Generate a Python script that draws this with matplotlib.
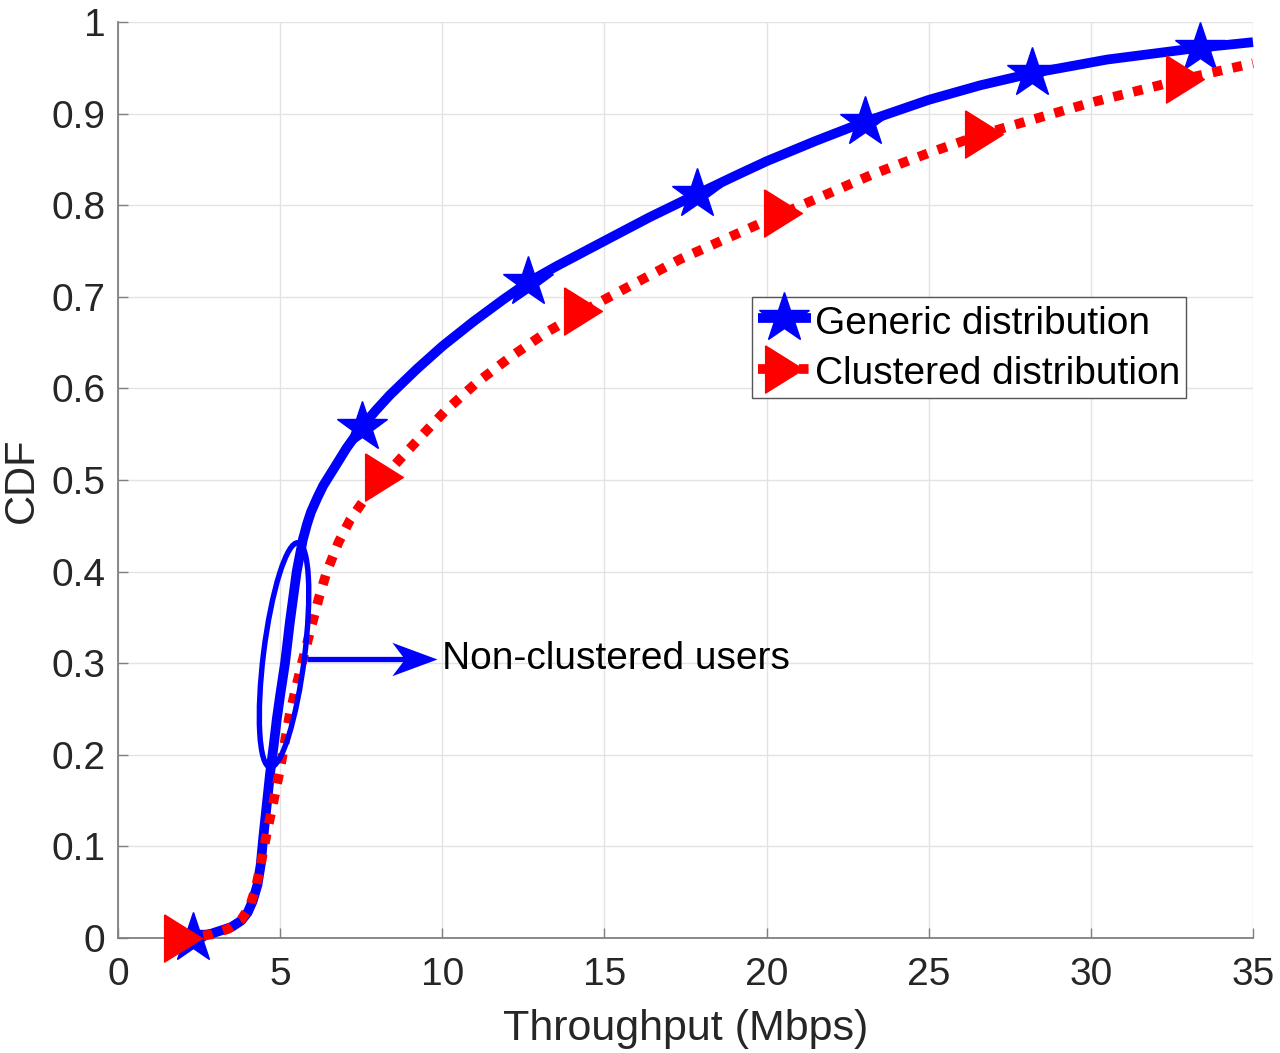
import numpy as np
import matplotlib
matplotlib.use("Agg")
import matplotlib.pyplot as plt
from matplotlib.patches import Ellipse
from matplotlib.transforms import Affine2D, ScaledTranslation

plt.rcParams['font.family'] = ['Liberation Sans', 'DejaVu Sans']

# ---- data ----
gen_x = [2.3, 2.9, 3.5, 3.8, 4.0, 4.15, 4.3, 4.4, 4.48, 4.6, 4.69, 4.8, 4.9, 5.0, 5.15, 5.3,
         5.51, 5.7, 5.83, 5.95, 6.15, 6.33, 6.7, 7.05, 7.52, 7.95, 8.39, 9.21, 10.0, 10.96, 11.88, 12.65,
         13.5, 15.0, 16.4, 17.85, 19.0, 20.0, 21.5, 23.03, 25.0, 26.6, 28.18, 30.5, 33.36, 35.0]
gen_y = [0.0, 0.005, 0.012, 0.019, 0.028, 0.04, 0.058, 0.08, 0.11, 0.15, 0.18, 0.21, 0.24, 0.265, 0.30, 0.345,
         0.40, 0.435, 0.452, 0.465, 0.481, 0.494, 0.515, 0.535, 0.558, 0.576, 0.593, 0.621, 0.646, 0.673, 0.697, 0.716,
         0.733, 0.761, 0.787, 0.812, 0.8315, 0.848, 0.870, 0.891, 0.915, 0.931, 0.944, 0.959, 0.972, 0.978]

clu_x = [2.0, 2.5, 2.9, 3.4, 3.8, 4.07, 4.25, 4.4, 4.59, 4.8, 5.0, 5.15, 5.3, 5.5, 5.67, 6.0,
         6.2, 6.44, 6.8, 7.15, 7.6, 8.2, 8.7, 9.62, 10.08, 11.05, 12.13, 13.2, 14.34, 15.0, 17.33, 20.62,
         23.29, 25.0, 26.7, 30.0, 32.9, 35.0]
clu_y = [0.0, 0.002, 0.004, 0.01, 0.02, 0.035, 0.055, 0.08, 0.115, 0.15, 0.185, 0.215, 0.245, 0.275, 0.30, 0.345,
         0.372, 0.40, 0.432, 0.456, 0.479, 0.503, 0.523, 0.558, 0.575, 0.606, 0.635, 0.661, 0.684, 0.697, 0.741, 0.793,
         0.834, 0.857, 0.878, 0.912, 0.938, 0.955]

star_x = [2.3, 7.52, 12.65, 17.85, 23.03, 28.18, 33.36]
star_y = [0.0, 0.558, 0.716, 0.812, 0.891, 0.944, 0.972]

tri_x = [2.0, 8.2, 14.34, 20.5, 26.7, 32.9]
tri_y = [0.0, 0.503, 0.684, 0.792, 0.878, 0.938]

x_ticks = [0, 5, 10, 15, 20, 25, 30, 35]
y_ticks = [0, 0.1, 0.2, 0.3, 0.4, 0.5, 0.6, 0.7, 0.8, 0.9, 1]
y_tick_labels = ['0', '0.1', '0.2', '0.3', '0.4', '0.5', '0.6', '0.7', '0.8', '0.9', '1']

labels = ['Generic distribution', 'Clustered distribution']
annot_text = 'Non-clustered users'

BLUE = '#0000ff'
RED = '#ff0000'
TXT = '#262626'
AX = '#808080'

fig = plt.figure(figsize=(12.8, 10.53), dpi=100)
ax = fig.add_axes([0.0922, 0.1092, 0.8867, 0.8699])

ax.set_xlim(0, 35)
ax.set_ylim(0, 1)

lb, = ax.plot(gen_x, gen_y, color=BLUE, lw=7, solid_capstyle='butt', solid_joinstyle='round',
              clip_on=False, zorder=3)
mb, = ax.plot(star_x, star_y, ls='none', marker='*', ms=38, color=BLUE, mec=BLUE, clip_on=False, zorder=3)

lr, = ax.plot(clu_x, clu_y, color=RED, lw=7, dashes=(1.0, 1.1), dash_capstyle='butt', clip_on=False, zorder=4)
tri_marker = [(-0.8, 1.0), (-0.8, -1.0), (0.8, 0.0), (-0.8, 1.0)]
mr, = ax.plot(tri_x, tri_y, ls='none', marker=tri_marker, ms=34, color=RED, mec=RED, clip_on=False, zorder=4)

# ellipse around the non-clustered region (size in points, centred at a data point)
ecx, ecy = 5.12, 0.309
etr = Affine2D().scale(1 / 72.0) + fig.dpi_scale_trans + ScaledTranslation(ecx, ecy, ax.transData)
ell = Ellipse((0, 0), width=2 * 14.8, height=2 * 81.4, angle=-7.1, fill=False,
              edgecolor=BLUE, lw=3.9, transform=etr, zorder=5)
ax.add_patch(ell)

# arrow + text
arr_y = 0.305
tail_x, tip_x = 5.83, 9.84
ax.plot([tail_x, tip_x - 0.8], [arr_y, arr_y], color=BLUE, lw=3.8, solid_capstyle='butt', zorder=5)
head = [(0, 0), (-1, 0.37), (-0.72, 0), (-1, -0.37), (0, 0)]
ax.plot([tip_x], [arr_y], ls='none', marker=head, ms=65, color=BLUE, mec=BLUE, mew=0, zorder=5)
ax.text(10.0, arr_y, annot_text, fontsize=28, color='black', ha='left', va='center', zorder=6)

# axes styling
ax.set_xticks(x_ticks)
ax.set_yticks(y_ticks)
ax.set_yticklabels(y_tick_labels)
ax.tick_params(axis='both', direction='in', length=7, width=1, color=AX, labelcolor=TXT, labelsize=28)
ax.tick_params(axis='x', pad=14)
ax.tick_params(axis='y', pad=9)
ax.grid(True, color='#e3e3e3', lw=1.0)
ax.set_axisbelow(True)
for s in ['top', 'right']:
    ax.spines[s].set_visible(False)
for s in ['left', 'bottom']:
    ax.spines[s].set_color(AX)
    ax.spines[s].set_linewidth(1.3)

ax.set_xlabel('Throughput (Mbps)', fontsize=31, color=TXT, labelpad=11)
ax.set_ylabel('CDF', fontsize=30, color=TXT, labelpad=7)

leg = ax.legend([(lb, mb), (lr, mr)], labels, loc='upper left', bbox_to_anchor=(0.5586, 0.6998),
                borderaxespad=0, fontsize=28, frameon=True, fancybox=False, framealpha=1,
                edgecolor='#555555', borderpad=0.15, labelspacing=0.3, handlelength=1.36,
                handletextpad=0.12, handleheight=1.0)
leg.get_frame().set_linewidth(1.0)
leg.set_zorder(10)

fig.savefig('out.png', dpi=100)
